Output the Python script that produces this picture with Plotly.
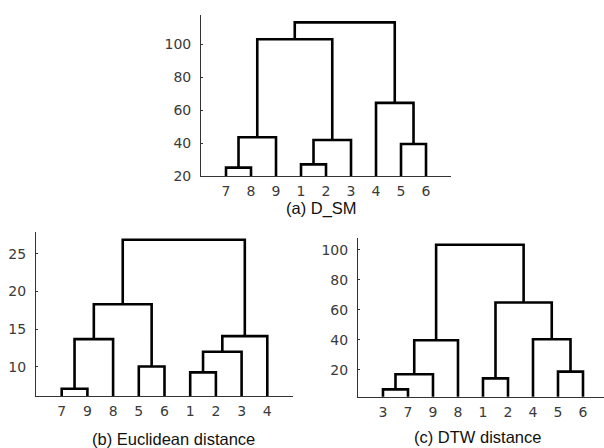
import plotly.graph_objects as go

# ---------------- data ----------------
# (a) D_SM
a_leaves = ["7", "8", "9", "1", "2", "3", "4", "5", "6"]
a_left = ["7", "m1", "1", "m3", "5", "4", "m2", "m7"]
a_right = ["8", "9", "2", "3", "6", "m5", "m4", "m6"]
a_heights = [25.1, 43.6, 27.1, 41.9, 39.5, 64.5, 103.2, 113.4]
a_yticks = [20, 40, 60, 80, 100]

# (b) Euclidean distance
b_leaves = ["7", "9", "8", "5", "6", "1", "2", "3", "4"]
b_left = ["7", "m1", "5", "m2", "1", "m5", "m6", "m4"]
b_right = ["9", "8", "6", "m3", "2", "3", "4", "m7"]
b_heights = [7.09, 13.66, 10.04, 18.29, 9.25, 11.98, 14.06, 26.85]
b_yticks = [10, 15, 20, 25]

# (c) DTW distance
c_leaves = ["3", "7", "9", "8", "1", "2", "4", "5", "6"]
c_left = ["3", "m1", "m2", "1", "5", "4", "m4", "m3"]
c_right = ["7", "9", "8", "2", "6", "m5", "m6", "m7"]
c_heights = [7.1, 17.1, 39.8, 14.4, 18.9, 40.4, 64.9, 103.3]
c_yticks = [20, 40, 60, 80, 100]

titles = ["(a) D_SM", "(b) Euclidean distance", "(c) DTW distance"]


def dendro_lines(leaves, left, right, heights):
    pos = {lab: (i + 1, 0.0) for i, lab in enumerate(leaves)}
    xs, ys = [], []
    for i, (l, r, h) in enumerate(zip(left, right, heights)):
        xl, yl = pos[l]
        xr, yr = pos[r]
        xs += [xl, xl, xr, xr, None]
        ys += [yl, h, h, yr, None]
        pos["m%d" % (i + 1)] = ((xl + xr) / 2.0, h)
    return xs, ys


fig = go.Figure()
panels = [
    (a_leaves, a_left, a_right, a_heights, "x", "y"),
    (b_leaves, b_left, b_right, b_heights, "x2", "y2"),
    (c_leaves, c_left, c_right, c_heights, "x3", "y3"),
]
for leaves, left, right, heights, xa, ya in panels:
    xs, ys = dendro_lines(leaves, left, right, heights)
    fig.add_trace(go.Scatter(x=xs, y=ys, mode="lines", xaxis=xa, yaxis=ya,
                             line=dict(color="black", width=2.6),
                             hoverinfo="skip", showlegend=False))

tickfont = dict(family="DejaVu Sans, sans-serif", size=14, color="#3a3a3a")
axis_common = dict(showgrid=False, zeroline=False, showline=True,
                   linecolor="#333333", linewidth=1,
                   tickfont=tickfont, automargin=False)

layout_specs = [
    # x domain, y domain, x range, y range
    ([0.3328, 0.7467], [0.6071, 0.9665], [0, 10], [20, 117.9]),
    ([0.0596, 0.4851], [0.1161, 0.4821], [0, 10], [6.12, 27.87]),
    ([0.5927, 1.0], [0.1145, 0.4688], [0, 9.84], [2.2, 107.8]),
]
leaf_sets = [a_leaves, b_leaves, c_leaves]
ytick_sets = [a_yticks, b_yticks, c_yticks]
for i, (xd, yd, xr, yr) in enumerate(layout_specs):
    sx = "" if i == 0 else str(i + 1)
    fig.layout["xaxis" + sx] = dict(
        domain=xd, range=xr, anchor="y" + sx, ticks="",
        tickmode="array", tickvals=list(range(1, 10)), ticktext=leaf_sets[i],
        ticklabelstandoff=2, **axis_common)
    fig.layout["yaxis" + sx] = dict(
        domain=yd, range=yr, anchor="x" + sx,
        ticks="inside", ticklen=2, tickwidth=1, tickcolor="#333333",
        tickmode="array", tickvals=ytick_sets[i], ticktext=[str(v) for v in ytick_sets[i]],
        ticklabelstandoff=6, **axis_common)

title_pos = [(0.5315, 1 - 208 / 448), (0.287, 1 - 439 / 448), (0.79, 1 - 437 / 448)]
for t, (px, py) in zip(titles, title_pos):
    fig.add_annotation(text=t, x=px, y=py, xref="paper", yref="paper",
                       xanchor="center", yanchor="middle", showarrow=False,
                       font=dict(family="Liberation Sans, Arial, sans-serif", size=16.5, color="#111111"))

fig.update_layout(width=604, height=448, margin=dict(l=0, r=0, t=0, b=0),
                  plot_bgcolor="white", paper_bgcolor="white")

fig.write_html("out.html", config={"displayModeBar": False},
               post_script="document.body.style.margin='0px';")
